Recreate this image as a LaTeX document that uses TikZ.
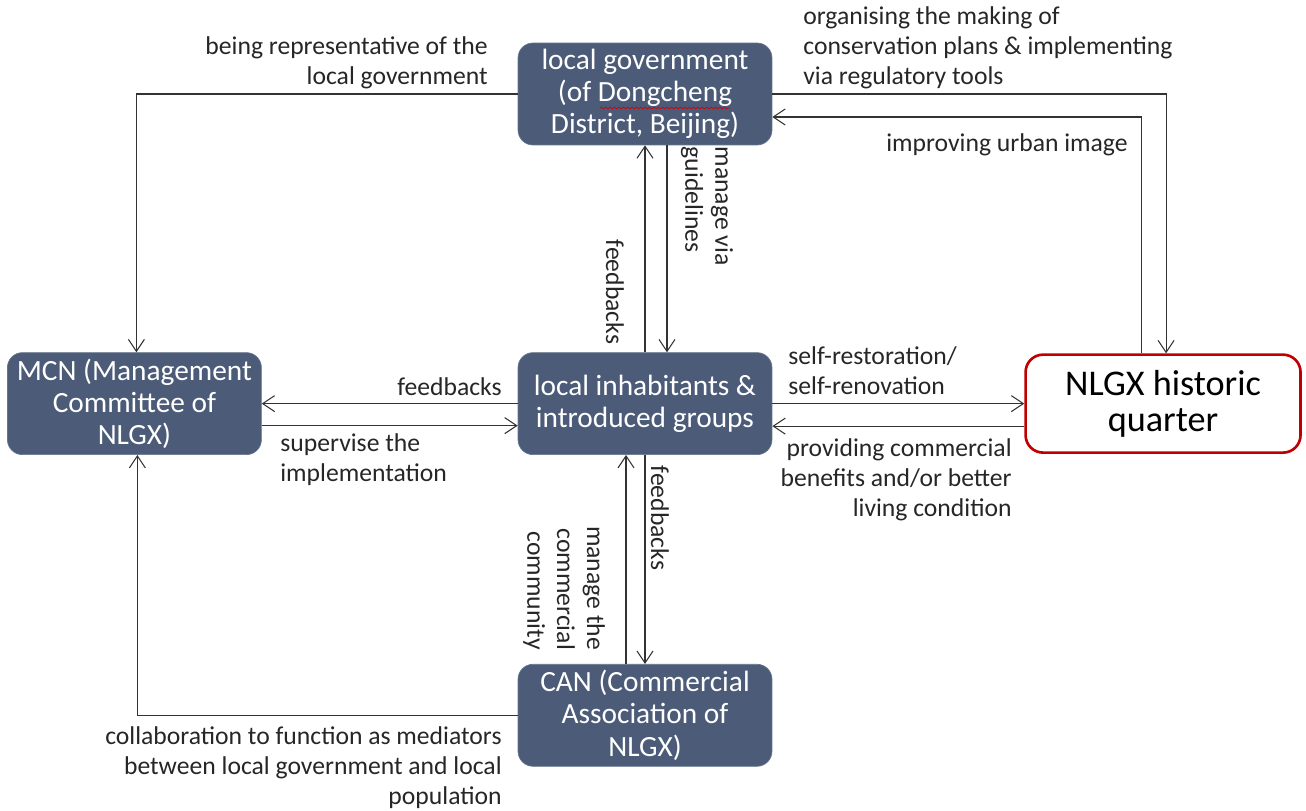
\documentclass[tikz,border=0pt]{standalone}
\usepackage{fontspec}
\setmainfont{Carlito}
\usetikzlibrary{arrows.meta,positioning,decorations.pathmorphing}
\definecolor{actorblue}{HTML}{4B5B78}
\definecolor{quarterred}{HTML}{C00000}

\begin{document}
\begin{tikzpicture}[x=0.02cm,y=-0.02cm,>={Straight Barb[length=2.4mm,width=3.2mm]},
  actor/.style={rectangle, rounded corners=0.3cm, fill=actorblue, draw=actorblue!85!white,
    text=white, minimum width=5.08cm, minimum height=2.04cm, align=center,
    font=\fontsize{16.7}{18.4}\selectfont},
  quarter/.style={rectangle, rounded corners=0.35cm, draw=quarterred, line width=1.5pt,
    fill=white, minimum width=5.5cm, minimum height=1.96cm, align=center,
    font=\fontsize{20.6}{20.4}\selectfont},
  lbl/.style={font=\fontsize{14.6}{17}\selectfont, inner sep=0pt, text=black!85},
  link/.style={->, draw=black!80, line width=0.6pt}]
\useasboundingbox (0,0) rectangle (1306,811);

% actors
\node[actor] (gov) at (645,94) {local government\\(of Dongcheng\\District, Beijing)};
\node[actor, below=4.14cm of gov] (inh) {local inhabitants \&\\introduced groups};
\node[actor, below=4.18cm of inh] (can) {CAN (Commercial\\Association of\\NLGX)};
\node[actor, left=5.12cm of inh] (mcn) {MCN (Management\\Committee of\\NLGX)};
\node[quarter, right=5.04cm of inh, text=black] (nlgx) {NLGX historic\\quarter};
\draw[red!85!black, line width=0.4pt, decorate, decoration={snake, amplitude=0.5pt, segment length=2.5pt}]
  (600,108) -- (730,108);

% connectors
\draw[link] (gov.west) -| ([xshift=0.04cm]mcn.north);
\draw[link] (gov.east) -| ([xshift=0.06cm]nlgx.north);
\draw[link] ([xshift=-0.44cm]nlgx.north) |- ([yshift=-0.46cm]gov.east);
\draw[link] (inh.north) -- (gov.south);
\draw[link] ([xshift=0.44cm]gov.south) -- ([xshift=0.44cm]inh.north);
\draw[link] (inh.west) -- (mcn.east);
\draw[link] ([yshift=-0.44cm]mcn.east) -- ([yshift=-0.44cm]inh.west);
\draw[link] (inh.east) -- (nlgx.west);
\draw[link] ([yshift=-0.45cm]nlgx.west) -- ([yshift=-0.45cm]inh.east);
\draw[link] ([xshift=-0.38cm]can.north) -- ([xshift=-0.38cm]inh.south);
\draw[link] (inh.south) -- (can.north);
\draw[link] (can.west) -| ([xshift=0.06cm]mcn.south);

% labels
\node[lbl, anchor=east, align=right] (lrep) at (488,63) {being representative of the\\local government};
\node[lbl, anchor=west, align=left] (lplan) at (803,48) {organising the making of\\conservation plans \& implementing\\via regulatory tools};
\node[lbl, anchor=east] (limage) at (1128,145) {improving urban image};
\node[lbl, rotate=-90] (lfbgov) at (615,292) {feedbacks};
\node[lbl, rotate=-90, align=left] (lguide) at (707,206) {manage via\\guidelines};
\node[lbl, anchor=east] (lfbmcn) at (502,387) {feedbacks};
\node[lbl, anchor=west, align=left] (lsuper) at (280,460) {supervise the\\implementation};
\node[lbl, anchor=west, align=left] (lself) at (788,371) {self-restoration/\\self-renovation};
\node[lbl, anchor=east, align=right] (lbenefit) at (1012,480) {providing commercial\\benefits and/or better\\living condition};
\node[lbl, rotate=-90] (lfbcan) at (660,518) {feedbacks};
\node[lbl, rotate=-90, align=right] (lcomm) at (564,588) {manage the\\commercial\\community};
\node[lbl, anchor=east, align=right] (lmediate) at (502,768) {collaboration to function as mediators\\between local government and local\\population};
\end{tikzpicture}
\end{document}
